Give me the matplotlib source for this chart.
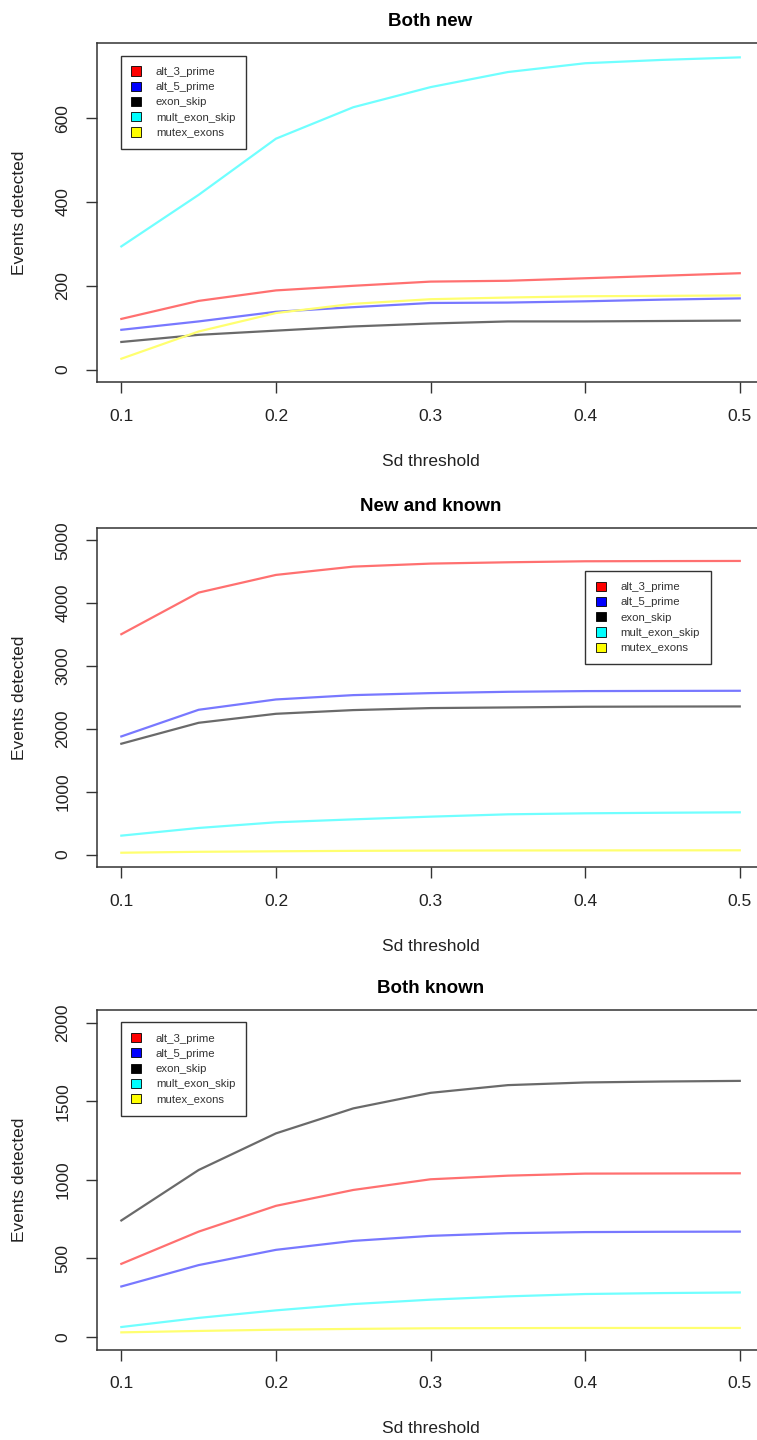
import matplotlib
matplotlib.use("Agg")
import matplotlib.pyplot as plt
from matplotlib.patches import Patch

plt.rcParams["font.family"] = ["Liberation Sans", "DejaVu Sans"]

# Sd thresholds (x axis)
thresholds = [0.1, 0.15, 0.2, 0.25, 0.3, 0.35, 0.4, 0.45, 0.5]

event_types = ["alt_3_prime", "alt_5_prime", "exon_skip", "mult_exon_skip", "mutex_exons"]
legend_colors = ["#ff0000", "#0000ff", "#000000", "#00ffff", "#ffff00"]

# Both new
both_new_alt3 = [121, 164, 189, 200, 210, 212, 218, 224, 230]
both_new_alt5 = [95, 115, 138, 149, 159, 160, 163, 167, 170]
both_new_exon = [66, 83, 93, 103, 110, 115, 115, 116, 117]
both_new_mult = [294, 417, 551, 626, 674, 710, 731, 739, 745]
both_new_mutex = [26, 91, 135, 157, 168, 172, 175, 176, 177]

# New and known
new_known_alt3 = [3506, 4168, 4449, 4581, 4629, 4650, 4666, 4669, 4671]
new_known_alt5 = [1880, 2304, 2468, 2537, 2569, 2590, 2601, 2604, 2606]
new_known_exon = [1764, 2097, 2240, 2299, 2331, 2341, 2352, 2355, 2357]
new_known_mult = [302, 424, 514, 561, 604, 641, 657, 666, 673]
new_known_mutex = [30, 45, 53, 60, 64, 66, 67, 68, 69]

# Both known
both_known_alt3 = [465, 670, 834, 935, 1003, 1026, 1039, 1040, 1041]
both_known_alt5 = [321, 457, 554, 611, 643, 660, 667, 669, 670]
both_known_exon = [741, 1062, 1295, 1454, 1553, 1602, 1619, 1625, 1629]
both_known_mult = [63, 121, 169, 209, 237, 258, 273, 279, 283]
both_known_mutex = [29, 38, 46, 51, 55, 56, 57, 57, 57]

panels = [
    ("Both new", [both_new_alt3, both_new_alt5, both_new_exon, both_new_mult, both_new_mutex],
     750, [0, 200, 400, 600], (0.036, 0.962)),
    ("New and known", [new_known_alt3, new_known_alt5, new_known_exon, new_known_mult, new_known_mutex],
     5000, [0, 1000, 2000, 3000, 4000, 5000], (0.7315, 0.873)),
    ("Both known", [both_known_alt3, both_known_alt5, both_known_exon, both_known_mult, both_known_mutex],
     2000, [0, 500, 1000, 1500, 2000], (0.036, 0.9637)),
]

# semi-transparent line colours as in the original R plot
line_colors = ["#ff7070", "#7878ff", "#6a6a6a", "#70ffff", "#ffff70"]

W, H = 757, 1440
fig = plt.figure(figsize=(W / 100, H / 100), dpi=100)

box_tops = [42.7, 527.7, 1010.0]
box_h = 339.5
box_left, box_right = 96.6, 764.5

for (title, series, ymax, yticks, leg_pos), top in zip(panels, box_tops):
    ax = fig.add_axes([box_left / W, 1 - (top + box_h) / H,
                       (box_right - box_left) / W, box_h / H])
    for vals, col in zip(series, line_colors):
        ax.plot(thresholds, vals, color=col, linewidth=1.6, solid_joinstyle="round")

    ax.set_xlim(0.1 - 0.016, 0.5 + 0.016)
    ax.set_ylim(-0.04 * ymax, 1.04 * ymax)
    ax.set_xticks([0.1, 0.2, 0.3, 0.4, 0.5])
    ax.set_yticks(yticks)
    ax.set_yticklabels([str(v) for v in yticks], rotation=90, va="center")
    ax.tick_params(axis="both", length=8, width=1, color="#333333",
                   labelsize=12.5, labelcolor="#222222", pad=11)
    for sp in ax.spines.values():
        sp.set_color("#333333")
        sp.set_linewidth(1.1)

    ax.set_xlabel("Sd threshold", fontsize=12.5, color="#222222")
    ax.xaxis.set_label_coords(0.5, -79 / box_h)
    ax.xaxis.label.set_va("center")
    ax.set_ylabel("Events detected", fontsize=12.5, color="#222222")
    ax.yaxis.set_label_coords(-77.3 / (box_right - box_left), 0.5)
    ax.yaxis.label.set_va("center")

    ax.text(0.5, 1 + 21 / box_h, title, transform=ax.transAxes,
            ha="center", va="center", fontsize=13.5, fontweight="bold")

    handles = [Patch(facecolor=c, edgecolor="black", linewidth=0.6) for c in legend_colors]
    leg = ax.legend(handles, event_types, loc="upper left", bbox_to_anchor=leg_pos,
                    borderaxespad=0, fontsize=8.2, frameon=True, fancybox=False,
                    edgecolor="#333333", framealpha=1, handlelength=0.85,
                    handleheight=0.85, handletextpad=1.3, labelspacing=0.42,
                    borderpad=0.95)
    leg.get_frame().set_linewidth(1.0)
    for t in leg.get_texts():
        t.set_color("#333333")

fig.savefig("out.png", dpi=100)
